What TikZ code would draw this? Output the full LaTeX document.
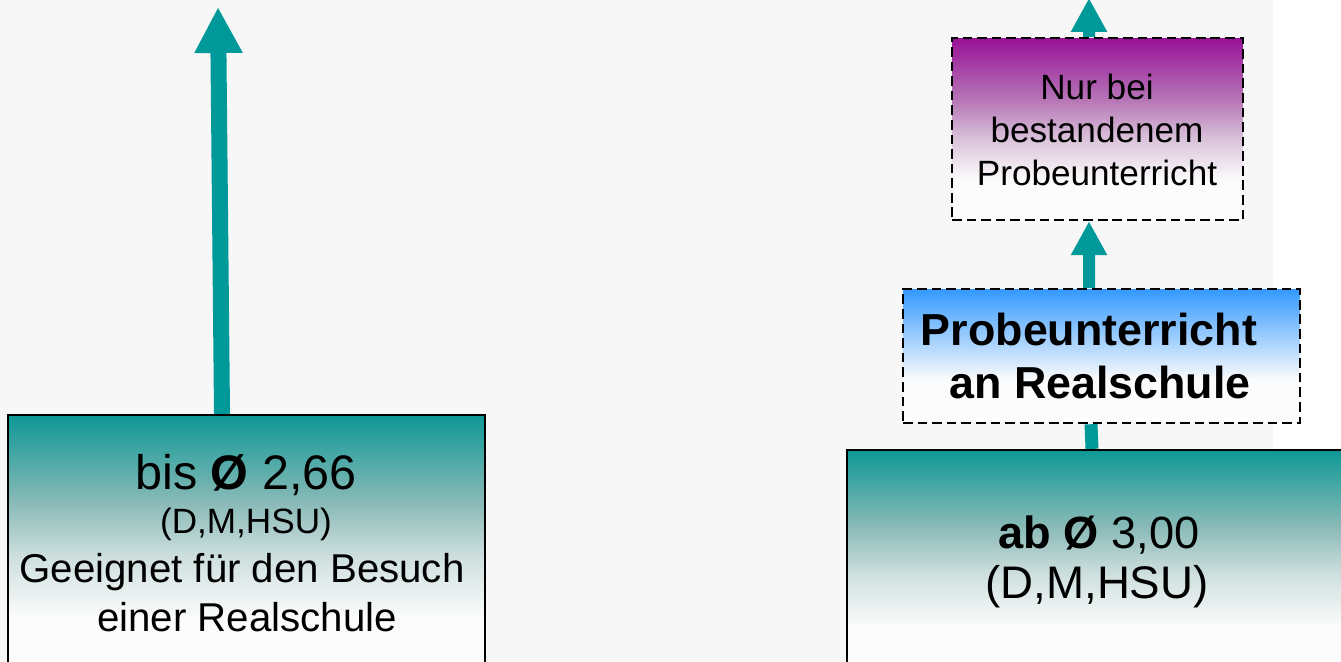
\documentclass[tikz,border=0pt]{standalone}
\usepackage{fontspec}
\setmainfont{Liberation Sans}
\usetikzlibrary{arrows.meta}

\definecolor{bggray}{RGB}{247,247,247}
\definecolor{arrowteal}{RGB}{0,153,153}
\definecolor{boxteal}{RGB}{14,152,150}
\definecolor{tealmid}{RGB}{138,186,183}
\definecolor{teallight}{RGB}{207,224,223}
\definecolor{boxpurple}{RGB}{153,17,153}
\definecolor{purplemid}{RGB}{182,118,182}
\definecolor{purplelight}{RGB}{218,196,218}
\definecolor{boxblue}{RGB}{51,153,255}
\definecolor{fadewhite}{RGB}{252,252,252}

\pgfdeclareverticalshading{tealfade}{100bp}{color(0bp)=(fadewhite); color(38bp)=(fadewhite);
	color(49bp)=(teallight); color(59bp)=(tealmid); color(75bp)=(boxteal); color(100bp)=(boxteal)}
\pgfdeclareverticalshading{purplefade}{100bp}{color(0bp)=(fadewhite); color(36bp)=(fadewhite);
	color(47bp)=(purplelight); color(58bp)=(purplemid); color(75bp)=(boxpurple); color(100bp)=(boxpurple)}
\pgfdeclareverticalshading{bluefade}{100bp}{color(0bp)=(fadewhite); color(41bp)=(fadewhite); color(75bp)=(boxblue); color(100bp)=(boxblue)}

\begin{document}
\begin{tikzpicture}[x=0.02cm,y=-0.02cm,
	gradebox/.style={draw=black, line width=1.3pt, inner sep=0pt, shade, shading=tealfade},
	hintbox/.style={draw=black, line width=1.4pt, dash pattern=on 5.5pt off 2.8pt, inner sep=0pt, shade},
	bigarrow/.style={draw=arrowteal, line width=0.32cm, -{Triangle[width=0.9cm,length=0.92cm]}},
	smallarrow/.style={draw=arrowteal, line width=0.24cm, -{Triangle[width=0.68cm,length=0.68cm]}},
	link/.style={draw=arrowteal, line width=0.26cm}]

	\clip (0,0) rectangle (1341,662);
	\fill[white] (0,0) rectangle (1341,662);
	\fill[bggray] (0,0) rectangle (1273,662);

	% boxes
	\node[gradebox, minimum width=9.54cm, minimum height=5.5cm] (lbox) at (246.5,552.5) {};
	\node[gradebox, minimum width=10.66cm, minimum height=4.8cm] (rbox) at (1113.5,570) {};
	\node[hintbox, shading=bluefade, minimum width=7.94cm, minimum height=2.68cm] (probe) at (1101.5,356) {};
	\node[hintbox, shading=purplefade, minimum width=5.82cm, minimum height=3.64cm] (nur) at (1097.5,129) {};

	% texts
	\node[anchor=base, font=\fontsize{27.6}{33}\selectfont] (lt1) at (246,489) {bis \textbf{Ø} 2,66};
	\node[anchor=base, font=\fontsize{20}{24}\selectfont] (lt2) at (246,533) {(D,M,HSU)};
	\node[anchor=base, font=\fontsize{22.9}{27}\selectfont] (lt3) at (242,582) {Geeignet für den Besuch};
	\node[anchor=base, font=\fontsize{22.9}{27}\selectfont] (lt4) at (247,631) {einer Realschule};

	\node[anchor=base, font=\fontsize{25.7}{31}\selectfont] (rt1) at (1099,548) {\textbf{ab Ø} 3,00};
	\node[anchor=base, font=\fontsize{26}{31}\selectfont] (rt2) at (1097,598) {(D,M,HSU)};

	\node[anchor=base, font=\fontsize{25.5}{30}\selectfont\bfseries] (pt1) at (1089,345) {Probeunterricht};
	\node[anchor=base, font=\fontsize{25.5}{30}\selectfont\bfseries] (pt2) at (1100,398) {an Realschule};

	\node[anchor=base, font=\fontsize{20}{24}\selectfont] (nt1) at (1097,100) {Nur bei};
	\node[anchor=base, font=\fontsize{20}{24}\selectfont] (nt2) at (1097,143) {bestandenem};
	\node[anchor=base, font=\fontsize{20}{24}\selectfont] (nt3) at (1097,186) {Probeunterricht};

	% arrows
	\coordinate (ltip) at (218,7);
	\coordinate (rtip) at (1089,-2);
	\draw[bigarrow] ([xshift=-0.49cm]lbox.north) -- (ltip);
	\draw[smallarrow] ([xshift=-0.17cm]nur.north) -- (rtip);
	\draw[smallarrow] ([xshift=-0.25cm]probe.north) -- ([xshift=-0.17cm]nur.south);
	\draw[link] ([xshift=-0.43cm]rbox.north) -- ([xshift=-0.21cm]probe.south);
\end{tikzpicture}
\end{document}
